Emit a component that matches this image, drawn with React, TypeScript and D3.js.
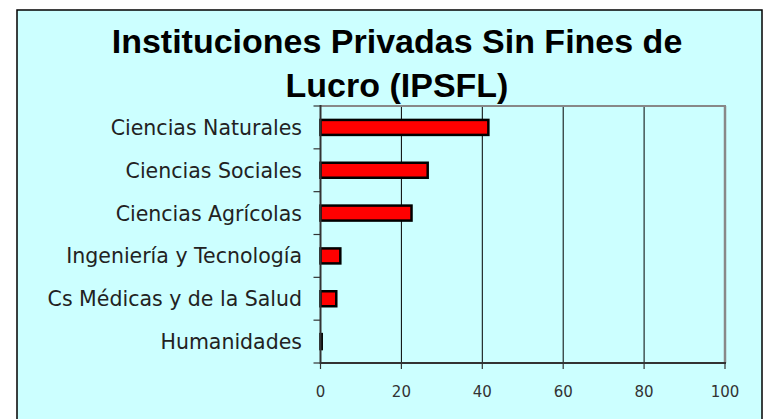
import React from "react";
import * as d3 from "d3";

const categories = [
  "Ciencias Naturales",
  "Ciencias Sociales",
  "Ciencias Agrícolas",
  "Ingeniería y Tecnología",
  "Cs Médicas y de la Salud",
  "Humanidades",
];
const values = [41.5, 26.5, 22.5, 4.9, 3.9, 0.3];
const xTicks = [0, 20, 40, 60, 80, 100];
const titleLines = ["Instituciones Privadas Sin Fines de", "Lucro (IPSFL)"];

const W = 769;
const H = 419;
const plot = { left: 320.5, right: 725, top: 106, bottom: 363 };

export default function App() {
  const x = d3.scaleLinear().domain([0, 100]).range([plot.left, plot.right]);
  const y = d3
    .scaleBand<string>()
    .domain(categories)
    .range([plot.top, plot.bottom])
    .paddingInner(0.65)
    .paddingOuter(0.325);
  const step = y.step();
  const boundaries = d3.range(categories.length + 1).map((i) => plot.top + i * step);

  return (
    <svg
      width={W}
      height={H}
      style={{ position: "absolute", left: 0, top: 0, background: "#ffffff" }}
    >
      <rect x={17} y={10} width={745} height={420} fill="#CCFFFF" stroke="#000" strokeWidth={1.5} />

      {titleLines.map((t, i) => (
        <text
          key={t}
          x={397}
          y={52.5 + i * 44}
          textAnchor="middle"
          fontFamily="'Liberation Sans', Arial, sans-serif"
          fontWeight="bold"
          fontSize={34}
          fill="#000"
        >
          {t}
        </text>
      ))}

      {/* gridlines */}
      {xTicks
        .filter((t) => t > 0 && t < 100)
        .map((t) => (
          <line key={t} x1={x(t)} x2={x(t)} y1={plot.top} y2={plot.bottom} stroke="#000" strokeWidth={1} />
        ))}
      {/* plot border top & right */}
      <line x1={plot.left} x2={plot.right + 1} y1={plot.top} y2={plot.top} stroke="#888" strokeWidth={2} />
      <line x1={plot.right} x2={plot.right} y1={plot.top} y2={plot.bottom} stroke="#888" strokeWidth={2.5} />

      {/* bars */}
      {categories.map((c, i) => (
        <rect
          key={c}
          x={x(0)}
          y={y(c)!}
          width={x(values[i]) - x(0)}
          height={y.bandwidth()}
          fill="#FF0000"
          stroke="#000"
          strokeWidth={2.5}
        />
      ))}

      {/* y axis */}
      <line x1={plot.left} x2={plot.left} y1={plot.top - 1} y2={plot.bottom + 1} stroke="#333" strokeWidth={2} />
      {boundaries.map((b, i) => (
        <line key={i} x1={plot.left - 7} x2={plot.left} y1={b} y2={b} stroke="#333" strokeWidth={1.2} />
      ))}
      {categories.map((c) => (
        <text
          key={c}
          x={302}
          y={y(c)! + y.bandwidth() / 2 + 7.5}
          textAnchor="end"
          fontFamily="'DejaVu Sans', sans-serif"
          fontSize={20.5}
          fill="#222"
        >
          {c}
        </text>
      ))}

      {/* x axis */}
      <line x1={plot.left} x2={plot.right + 1} y1={plot.bottom} y2={plot.bottom} stroke="#333" strokeWidth={2} />
      {xTicks.map((t) => (
        <g key={t}>
          <line x1={x(t)} x2={x(t)} y1={plot.bottom} y2={plot.bottom + 6} stroke="#333" strokeWidth={1.2} />
          <text
            x={x(t)}
            y={397}
            textAnchor="middle"
            fontFamily="'DejaVu Sans', sans-serif"
            fontSize={15}
            fill="#333"
          >
            {t}
          </text>
        </g>
      ))}
    </svg>
  );
}
